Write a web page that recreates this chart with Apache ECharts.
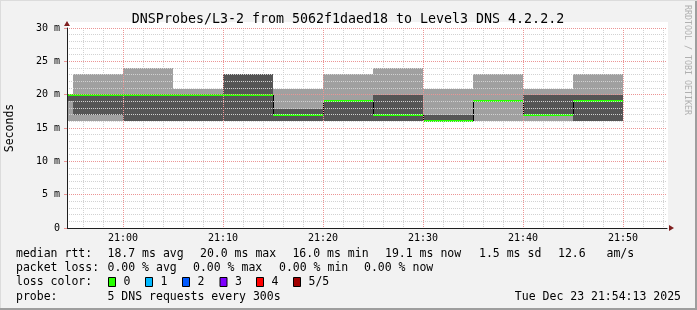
<!DOCTYPE html>
<html><head><meta charset="utf-8">
<script src="https://cdn.jsdelivr.net/npm/echarts@6/dist/echarts.min.js"></script>
<style>html,body{margin:0;padding:0;background:#f2f2f2}#c{width:697px;height:310px}</style>
</head><body><div id="c"></div>
<script>
// 5-minute bins, start minute relative to 21:00
const binStart = [-10, -5, 0, 5, 10, 15, 20, 25, 30, 35, 40, 45];
const binWidth = 5;
// sorted ping results per bin (ms)
const pingMin = [16.0, 16.0, 16.0, 16.0, 16.0, 16.0, 16.0, 16.0, 16.0, 16.0, 16.0, 16.0];
const ping2   = [19.1, 16.9, 16.0, 16.0, 16.0, 16.0, 16.0, 16.0, 16.0, 19.1, 16.9, 16.0];
const median  = [20.0, 20.0, 20.0, 20.0, 20.0, 16.9, 19.1, 16.9, 16.0, 19.1, 16.9, 19.1];
const ping4   = [20.0, 20.0, 20.0, 20.0, 23.1, 17.8, 19.1, 20.0, 16.9, 19.1, 20.0, 20.0];
const pingMax = [20.1, 23.1, 24.0, 20.9, 23.1, 20.9, 23.1, 24.0, 20.9, 23.1, 20.9, 23.1];

const xTickLabels = ['21:00', '21:10', '21:20', '21:30', '21:40', '21:50'];
const yTickLabels = ['0', '5 m', '10 m', '15 m', '20 m', '25 m', '30 m'];

const titleText = 'DNSProbes/L3-2 from 5062f1daed18 to Level3 DNS 4.2.2.2';
const medianStats = ['18.7 ms avg', '20.0 ms max', '16.0 ms min', '19.1 ms now', '1.5 ms sd', '12.6   am/s'];
const lossStats = ['0.00 % avg', '0.00 % max', '0.00 % min', '0.00 % now'];
const lossLabels = ['0', '1', '2', '3', '4', '5/5'];
const lossColors = ['#26ff00', '#00b8ff', '#0059ff', '#7e00ff', '#ff0000', '#a00000'];
const probeText = '5 DNS requests every 300s';
const dateText = 'Tue Dec 23 21:54:13 2025';

const FONT = 'DejaVu Sans Mono';
const chart = echarts.init(document.getElementById('c'), null, {renderer: 'canvas'});

const data = binStart.map((s, i) => [s, s + binWidth, pingMin[i], ping2[i], median[i], ping4[i], pingMax[i]]);

function renderItem(params, api) {
  const i = params.dataIndex;
  const s = api.value(0), e = api.value(1);
  const ch = [];
  const rect = (y1, y2, fill) => {
    const a = api.coord([s, y2]), b = api.coord([e, y1]);
    const top = Math.round(a[1]), bot = Math.round(b[1]);
    if (bot - top > 0) ch.push({type: 'rect', shape: {x: a[0], y: top, width: b[0] - a[0], height: bot - top}, style: {fill: fill}});
  };
  rect(api.value(2), api.value(6), '#a0a0a0');
  rect(api.value(3), api.value(5), '#555555');
  const med = api.value(4);
  if (i > 0 && median[i - 1] !== med) {
    const p = api.coord([s, median[i - 1]]), q = api.coord([s, med]);
    ch.push({type: 'line', shape: {x1: Math.round(p[0]) + 0.5, y1: Math.round(p[1]), x2: Math.round(p[0]) + 0.5, y2: Math.round(q[1])}, style: {stroke: '#000', lineWidth: 1}});
  }
  const m1 = api.coord([s, med]), m2 = api.coord([e, med]);
  ch.push({type: 'rect', shape: {x: m1[0], y: Math.round(m1[1] - 1), width: m2[0] - m1[0], height: 2}, style: {fill: lossColors[0]}});
  return {type: 'group', children: ch};
}

const graphics = [];
const txt = (x, y, text, extra) => graphics.push({type: 'text', x: x, y: y, style: Object.assign({text: text, font: '11.5px "' + FONT + '"', fill: '#000', verticalAlign: 'middle'}, extra || {})});
// frame
graphics.push({type: 'rect', shape: {x: 695, y: 0, width: 2, height: 310}, style: {fill: '#9e9e9e'}});
graphics.push({type: 'rect', shape: {x: 0, y: 308, width: 697, height: 2}, style: {fill: '#9e9e9e'}});
graphics.push({type: 'rect', shape: {x: 0, y: 0, width: 697, height: 1}, style: {fill: '#dcdcdc'}});
graphics.push({type: 'rect', shape: {x: 0, y: 0, width: 1, height: 308}, style: {fill: '#dcdcdc'}});
// title
graphics.push({type: 'text', x: 348, y: 19.5, style: {text: titleText, font: '13.3px "' + FONT + '"', fill: '#000', align: 'center', verticalAlign: 'middle'}});
// watermark
graphics.push({type: 'text', x: 687, y: 60, rotation: -Math.PI / 2, style: {text: 'RRDTOOL / TOBI OETIKER', font: '8.3px "' + FONT + '"', fill: '#b0b0b0', align: 'center', verticalAlign: 'middle'}});
// y axis name
graphics.push({type: 'text', x: 10, y: 128, rotation: Math.PI / 2, style: {text: 'Seconds', font: '11.5px "' + FONT + '"', fill: '#000', align: 'center', verticalAlign: 'middle'}});
// legend lines
const medX = [107.5, 200, 292.4, 385, 479, 558];
const lossX = [107.5, 193, 279, 364];
const boxX = [108, 145, 182, 219.5, 256, 293];
txt(16, 254.3, 'median rtt:');
medianStats.forEach((t, i) => txt(medX[i], 254.3, t));
txt(16, 268.3, 'packet loss:');
lossStats.forEach((t, i) => txt(lossX[i], 268.3, t));
txt(16, 282.3, 'loss color:');
lossLabels.forEach((t, i) => {
  graphics.push({type: 'rect', shape: {x: boxX[i] + 0.5, y: 277.5, width: 7, height: 9}, style: {fill: lossColors[i], stroke: '#000', lineWidth: 1}});
  txt(boxX[i] + 15.5, 282.3, t);
});
txt(16, 296.7, 'probe:');
txt(107.5, 296.7, probeText);
txt(681, 296.7, dateText, {align: 'right'});

const hiddenAxis = {axisLine: {show: false, onZero: false}, axisTick: {show: false}, axisLabel: {show: false}, splitLine: {show: false}};
const MINOR = '#d2d2d2';

chart.setOption({
  animation: false,
  backgroundColor: '#f2f2f2',
  textStyle: {fontFamily: FONT},
  grid: [
    {left: 67, top: 28, width: 600, height: 200, show: false},
    {left: 63, top: 28, width: 600, height: 200, show: false},
    {left: 67, top: 22, width: 601, height: 206, show: true, backgroundColor: '#ffffff', borderWidth: 0, z: -1}
  ],
  xAxis: [
    {gridIndex: 0, type: 'value', min: -5.6, max: 54.4, splitNumber: 6, minInterval: 10, maxInterval: 10, z: 3,
      axisLine: {show: true, onZero: false, lineStyle: {color: '#1f1f1f'}},
      axisTick: {show: false},
      axisLabel: {showMinLabel: false, showMaxLabel: false, fontSize: 10, fontFamily: FONT, color: '#000', margin: 5,
        formatter: v => xTickLabels[Math.round(v / 10)] || ''},
      splitLine: {show: true, showMinLine: false, showMaxLine: false, lineStyle: {color: '#eb9595', type: [1, 1]}}},
    Object.assign({gridIndex: 1, type: 'value', min: -6, max: 54, interval: 2, z: 1}, hiddenAxis,
      {splitLine: {show: true, showMinLine: false, lineStyle: {color: MINOR, type: [1, 1]}}}),
    Object.assign({gridIndex: 2, type: 'value', min: 0, max: 1, z: 4}, hiddenAxis,
      {axisLine: {show: true, onZero: false, symbol: ['none', 'triangle'], symbolSize: [6, 5], symbolOffset: [0, 3.5], lineStyle: {color: '#7f1f1f', width: 0}}})
  ],
  yAxis: [
    {gridIndex: 0, type: 'value', min: 0, max: 30, interval: 5, z: 3,
      axisLine: {show: true, onZero: false, lineStyle: {color: '#1f1f1f'}},
      axisTick: {show: true, length: 3, lineStyle: {color: '#eb9595'}},
      axisLabel: {fontSize: 10, fontFamily: FONT, color: '#000', margin: 7, formatter: v => yTickLabels[Math.round(v / 5)]},
      splitLine: {show: true, lineStyle: {color: '#eb9595', type: [1, 1]}},
      minorTick: {show: false, splitNumber: 5},
      minorSplitLine: {show: true, lineStyle: {color: MINOR, type: [1, 1]}}},
    Object.assign({gridIndex: 1, type: 'value', min: 0, max: 30}, hiddenAxis),
    Object.assign({gridIndex: 2, type: 'value', min: 0, max: 1, z: 4}, hiddenAxis,
      {axisLine: {show: true, onZero: false, symbol: ['none', 'triangle'], symbolSize: [6, 5], symbolOffset: [0, -1.5], lineStyle: {color: '#7f1f1f', width: 0}}})
  ],
  graphic: graphics,
  series: [{
    type: 'custom', xAxisIndex: 0, yAxisIndex: 0, clip: true, z: 2,
    renderItem: renderItem, data: data, silent: true
  }]
});
</script></body></html>
